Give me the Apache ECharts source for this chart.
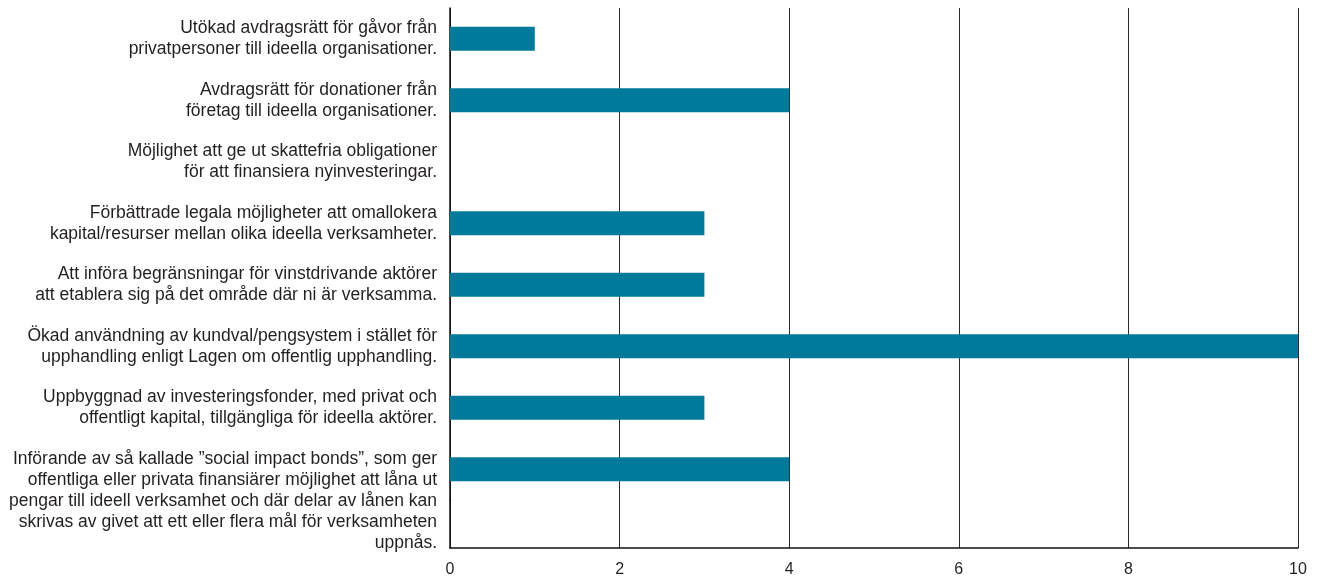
<!DOCTYPE html>
<html><head><meta charset="utf-8">
<script src="https://cdn.jsdelivr.net/npm/echarts@6/dist/echarts.min.js"></script>
<style>html,body{margin:0;padding:0;background:#fff}#c{width:1322px;height:583px}</style>
</head><body><div id="c"></div>
<script>
const categories = [
  "Utökad avdragsrätt för gåvor från\nprivatpersoner till ideella organisationer.",
  "Avdragsrätt för donationer från\nföretag till ideella organisationer.",
  "Möjlighet att ge ut skattefria obligationer\nför att finansiera nyinvesteringar.",
  "Förbättrade legala möjligheter att omallokera\nkapital/resurser mellan olika ideella verksamheter.",
  "Att införa begränsningar för vinstdrivande aktörer\natt etablera sig på det område där ni är verksamma.",
  "Ökad användning av kundval/pengsystem i stället för\nupphandling enligt Lagen om offentlig upphandling.",
  "Uppbyggnad av investeringsfonder, med privat och\noffentligt kapital, tillgängliga för ideella aktörer.",
  "Införande av så kallade ”social impact bonds”, som ger\noffentliga eller privata finansiärer möjlighet att låna ut\npengar till ideell verksamhet och där delar av lånen kan\nskrivas av givet att ett eller flera mål för verksamheten\nuppnås."
];
const values = [1, 4, 0, 3, 3, 10, 3, 4];
const xTicks = [0, 2, 4, 6, 8, 10];

const FONT = "Liberation Sans";
const chart = echarts.init(document.getElementById('c'), null, {renderer: 'canvas'});
chart.setOption({
  animation: false,
  textStyle: {fontFamily: FONT},
  grid: [
    {left: 450, top: 8, width: 848, height: 492},
    {left: 450, top: 500, width: 848, height: 48}
  ],
  xAxis: [
    {gridIndex: 0, type: 'value', min: xTicks[0], max: xTicks[xTicks.length-1], interval: 2,
     axisLine: {show: false}, axisTick: {show: false}, axisLabel: {show: false},
     splitLine: {show: true, lineStyle: {color: '#2b2b2b', width: 1}}},
    {gridIndex: 1, type: 'value', min: xTicks[0], max: xTicks[xTicks.length-1], interval: 2,
     axisLine: {show: true, onZero: false, lineStyle: {color: '#111', width: 1.5}},
     axisTick: {show: false},
     axisLabel: {show: true, margin: 14, color: '#231f20', fontSize: 16, fontFamily: FONT},
     splitLine: {show: true, lineStyle: {color: '#2b2b2b', width: 1}}}
  ],
  yAxis: [
    {gridIndex: 0, type: 'category', data: categories, inverse: true,
     axisLine: {show: true, lineStyle: {color: '#111', width: 1.5}},
     axisTick: {show: false},
     axisLabel: {interval: 0, margin: 13, color: '#231f20', fontSize: 17.5, lineHeight: 21, fontFamily: FONT, align: 'right',
       formatter: function (v, i) { return i === categories.length - 1 ? '\n\n\n' + v : v; }},
     splitLine: {show: false}},
    {gridIndex: 1, type: 'value', min: 0, max: 1,
     axisLine: {show: true, onZero: false, lineStyle: {color: '#111', width: 1.5}},
     axisTick: {show: false}, axisLabel: {show: false}, splitLine: {show: false}}
  ],
  series: [{
    type: 'bar', xAxisIndex: 0, yAxisIndex: 0, data: values, barWidth: 24,
    itemStyle: {color: '#007a9a'}
  }]
});
</script></body></html>
